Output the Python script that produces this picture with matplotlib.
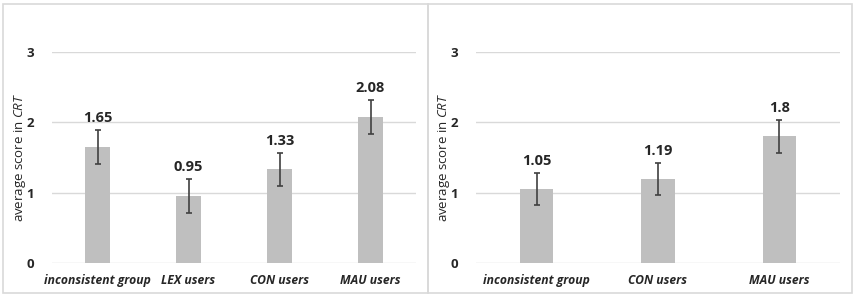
import matplotlib
matplotlib.use("Agg")
import matplotlib.pyplot as plt
from matplotlib.patches import Rectangle

plt.rcParams['font.family'] = ['Open Sans', 'DejaVu Sans']
plt.rcParams['mathtext.fontset'] = 'custom'
plt.rcParams['mathtext.it'] = 'Open Sans:italic'
plt.rcParams['mathtext.rm'] = 'Open Sans'

# Data
left_categories = ["inconsistent group", "LEX users", "CON users", "MAU users"]
left_values = [1.65, 0.95, 1.33, 2.08]
left_errors = [0.24, 0.245, 0.24, 0.24]
left_labels = ["1.65", "0.95", "1.33", "2.08"]

right_categories = ["inconsistent group", "CON users", "MAU users"]
right_values = [1.05, 1.19, 1.80]
right_errors = [0.23, 0.23, 0.235]
right_labels = ["1.05", "1.19", "1.8"]

yticks = [0, 1, 2, 3]
ylabel = "average score in $\\mathit{CRT}$"

W, H = 856, 298
fig = plt.figure(figsize=(W / 100, H / 100), dpi=100)

# panel borders
border = '#d9d9d9'
for (x0, x1) in [(3, 428), (428, 852)]:
    fig.patches.append(Rectangle((x0 / W, 1 - 293 / H), (x1 - x0) / W, (293 - 4) / H,
                                 transform=fig.transFigure, fill=False,
                                 edgecolor=border, linewidth=1.2))

def panel(left_px, cats, vals, errs, labels, ylabel_x):
    ax = fig.add_axes([left_px / W, 1 - 263 / H, 364 / W, (263 - 52) / H])
    x = list(range(len(cats)))
    ax.bar(x, vals, width=0.275, color='#bfbfbf', zorder=2)
    ax.errorbar(x, vals, yerr=errs, fmt='none', ecolor='#404040',
                elinewidth=1.2, capsize=2.5, capthick=1.2, zorder=3)
    for xi, v, e, lab in zip(x, vals, errs, labels):
        ax.annotate(lab, (xi, v + e), xytext=(0, 3.5), textcoords='offset points',
                    ha='center', va='bottom', fontsize=10.5, fontweight='bold',
                    color='#262626', annotation_clip=False)
    ax.set_xlim(-0.5, len(cats) - 0.5)
    ax.set_ylim(0, 3)
    ax.set_yticks(yticks)
    ax.set_yticklabels([str(t) for t in yticks], fontsize=9.5, fontweight='bold', color='#262626')
    ax.set_xticks(x)
    ax.set_xticklabels(cats, fontsize=8.7, fontweight='bold', style='italic', color='#262626')
    ax.tick_params(axis='both', length=0)
    ax.tick_params(axis='y', pad=13)
    ax.tick_params(axis='x', pad=8)
    ax.grid(axis='y', color='#d9d9d9', linewidth=1, zorder=0)
    ax.set_axisbelow(True)
    for s in ax.spines.values():
        s.set_visible(False)
    fig.text(ylabel_x / W, 1 - 157 / H, ylabel, rotation=90, ha='center', va='center',
             fontsize=9.5, color='#262626')
    return ax

panel(52, left_categories, left_values, left_errors, left_labels, 20)
panel(476, right_categories, right_values, right_errors, right_labels, 444)

fig.savefig("out.png", dpi=100)
